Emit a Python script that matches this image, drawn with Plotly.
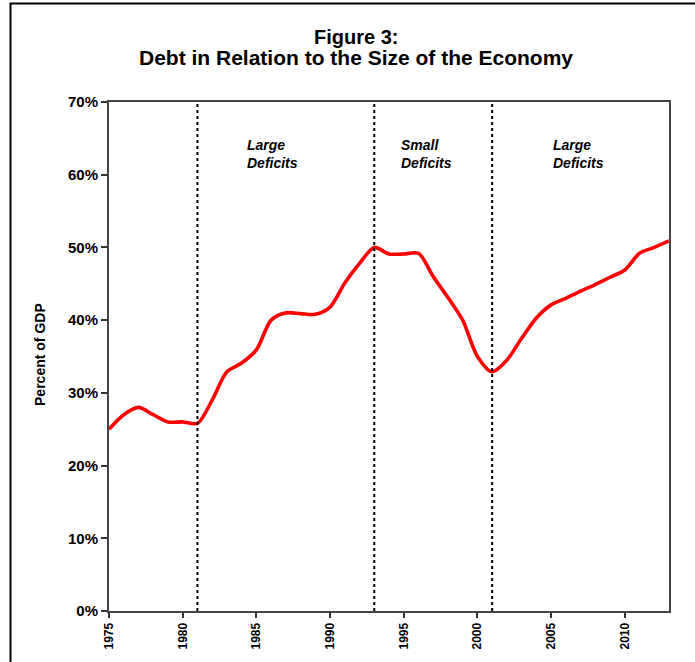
import plotly.graph_objects as go

years = list(range(1975, 2014))
debt_pct = [25.0, 27.0, 28.0, 27.0, 26.0, 26.0, 25.8, 29.0, 32.9, 34.1,
            35.9, 40.0, 41.0, 40.9, 40.8, 41.8, 45.1, 47.8, 50.0, 49.1,
            49.1, 49.2, 46.0, 43.1, 40.0, 35.0, 32.9, 34.5, 37.5, 40.3,
            42.1, 43.0, 44.0, 44.9, 45.9, 46.9, 49.2, 50.0, 50.9]

period_breaks = [1981, 1993, 2001]
period_labels = ["Large<br>Deficits", "Small<br>Deficits", "Large<br>Deficits"]
period_label_x = [1984.2, 1994.7, 2005.0]

y_ticks = [0, 10, 20, 30, 40, 50, 60, 70]
y_tick_text = ["0%", "10%", "20%", "30%", "40%", "50%", "60%", "70%"]
x_ticks = [1975, 1980, 1985, 1990, 1995, 2000, 2005, 2010]

title_line1 = "Figure 3:"
title_line2 = "Debt in Relation to the Size of the Economy"

FONT = "Liberation Sans, Arial, sans-serif"

fig = go.Figure()
fig.add_trace(go.Scatter(
    x=years, y=debt_pct, mode="lines",
    line=dict(color="#ff0000", width=3.6, shape="spline", smoothing=0.8),
    hoverinfo="x+y", showlegend=False,
))

for xb in period_breaks:
    fig.add_shape(type="line", xref="x", yref="y", x0=xb, x1=xb, y0=0, y1=70,
                  line=dict(color="black", width=2, dash="dot"))

for lx, lt in zip(period_label_x, period_labels):
    fig.add_annotation(x=lx, y=62.9, xref="x", yref="y", text="<b><i>" + lt + "</i></b>",
                       showarrow=False, xanchor="left", yanchor="middle", align="left",
                       font=dict(family=FONT, size=14, color="black"))

# title (two lines)
fig.add_annotation(x=0.441, y=(611 - 37) / 509, xref="paper", yref="paper",
                   text="<b>" + title_line1 + "</b>",
                   showarrow=False, xanchor="center", yanchor="middle",
                   font=dict(family=FONT, size=20, color="black"))
fig.add_annotation(x=0.441, y=(611 - 58) / 509, xref="paper", yref="paper",
                   text="<b>" + title_line2 + "</b>",
                   showarrow=False, xanchor="center", yanchor="middle",
                   font=dict(family=FONT, size=21, color="black"))

# y-axis title
fig.add_annotation(x=(40 - 109) / 560, y=0.503, xref="paper", yref="paper",
                   text="<b>Percent of GDP</b>", textangle=-90, showarrow=False,
                   xanchor="center", yanchor="middle",
                   font=dict(family=FONT, size=14, color="black"))

# outer frame
fig.add_shape(type="rect", xref="paper", yref="paper",
              x0=(10.5 - 109) / 560, x1=1.06, y0=-0.2, y1=(611 - 3.5) / 509,
              line=dict(color="black", width=2), layer="above")

fig.update_xaxes(range=[1975, 2013], tickvals=x_ticks, tickangle=-90,
                 ticks="outside", ticklen=5, tickcolor="#333", tickwidth=1.5,
                 showline=True, linecolor="#444", linewidth=2, mirror=True,
                 showgrid=False, zeroline=False,
                 tickfont=dict(family=FONT, size=12, color="black", weight="bold"))
fig.update_yaxes(range=[0, 70], tickvals=y_ticks, ticktext=y_tick_text,
                 ticks="outside", ticklen=6, tickcolor="#333", tickwidth=1.5,
                 showline=True, linecolor="#444", linewidth=2, mirror=True,
                 showgrid=False, zeroline=False,
                 tickfont=dict(family=FONT, size=15, color="black", weight="bold"))

fig.update_layout(width=695, height=662,
                  margin=dict(l=109, r=26, t=102, b=51),
                  paper_bgcolor="white", plot_bgcolor="white")

fig.write_html("out.html", config={"displayModeBar": False},
               post_script="document.body.style.margin='0';document.body.style.overflow='hidden';")
